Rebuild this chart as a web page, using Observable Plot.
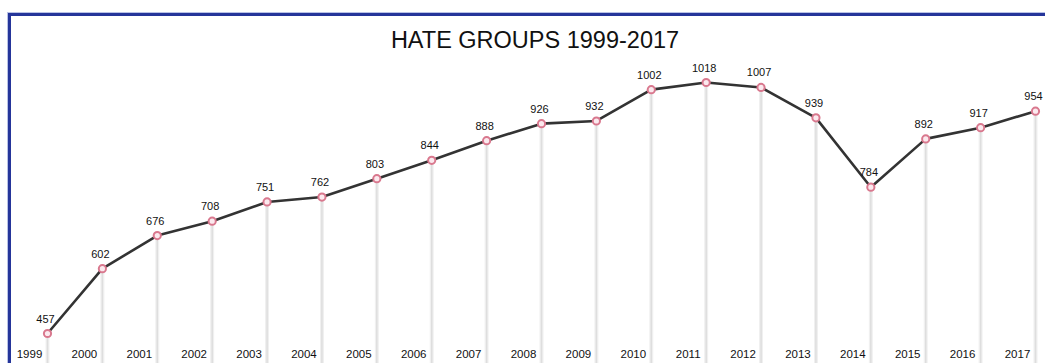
<!DOCTYPE html>
<html>
<head>
<meta charset="utf-8">
<script src="https://cdn.jsdelivr.net/npm/d3@7"></script>
<script src="https://cdn.jsdelivr.net/npm/@observablehq/plot@0.6"></script>
<style>
  html, body { margin: 0; padding: 0; background: #fff; }
  #wrap { position: relative; width: 1045px; height: 363px; overflow: hidden; font-family: "Liberation Sans", Arial, sans-serif; }
  #frame { position: absolute; left: 8px; top: 13px; right: -10px; bottom: -10px;
           border-top: 3px solid #25359a; border-left: 3px solid #25359a;
           box-shadow: -1px -1px 0 #b9c2e6; }
  #title { position: absolute; left: 0; width: 1070px; top: 27px; text-align: center;
           font-size: 23.5px; color: #111; letter-spacing: 0; }
  #chart { position: absolute; left: 0; top: 0; }
</style>
</head>
<body>
<div id="wrap">
  <div id="frame"></div>
  <div id="chart"></div>
  <div id="title">HATE GROUPS 1999-2017</div>
</div>
<script>
const years = [1999, 2000, 2001, 2002, 2003, 2004, 2005, 2006, 2007, 2008, 2009, 2010, 2011, 2012, 2013, 2014, 2015, 2016, 2017];
const counts = [457, 602, 676, 708, 751, 762, 803, 844, 888, 926, 932, 1002, 1018, 1007, 939, 784, 892, 917, 954];
const yearLabels = years.map(String);

const data = years.map((y, i) => ({year: y, value: counts[i], label: yearLabels[i]}));
const yMin = 390, yMax = 1018;

const chart = Plot.plot({
  width: 1045,
  height: 363,
  marginLeft: 47,
  marginRight: 10,
  marginTop: 82,
  marginBottom: 0,
  style: {fontFamily: "'Liberation Sans', Arial, sans-serif", background: "transparent", overflow: "hidden"},
  x: {type: "linear", domain: [1999, 2017], axis: null},
  y: {domain: [yMin, yMax], axis: null},
  marks: [
    Plot.ruleX(data, {x: "year", y1: yMin, y2: "value", stroke: "#f0f0f0", strokeWidth: 4}),
    Plot.ruleX(data, {x: "year", y1: yMin, y2: "value", stroke: "#dedede", strokeWidth: 1.5}),
    Plot.line(data, {x: "year", y: "value", stroke: "#333", strokeWidth: 2.6, strokeLinejoin: "round"}),
    Plot.dot(data, {x: "year", y: "value", r: 3.6, stroke: "#d9788e", strokeWidth: 2, fill: "#fbe9ee"}),
    Plot.text(data, {x: "year", y: "value", text: d => String(d.value), dy: -11, dx: -2, lineAnchor: "bottom", fontSize: 11, fill: "#111"}),
    Plot.text(data, {x: "year", text: "label", frameAnchor: "bottom", lineAnchor: "bottom", dx: -18, dy: -6, fontSize: 11.5, fill: "#111"})
  ]
});
document.getElementById("chart").appendChild(chart);
</script>
</body>
</html>
